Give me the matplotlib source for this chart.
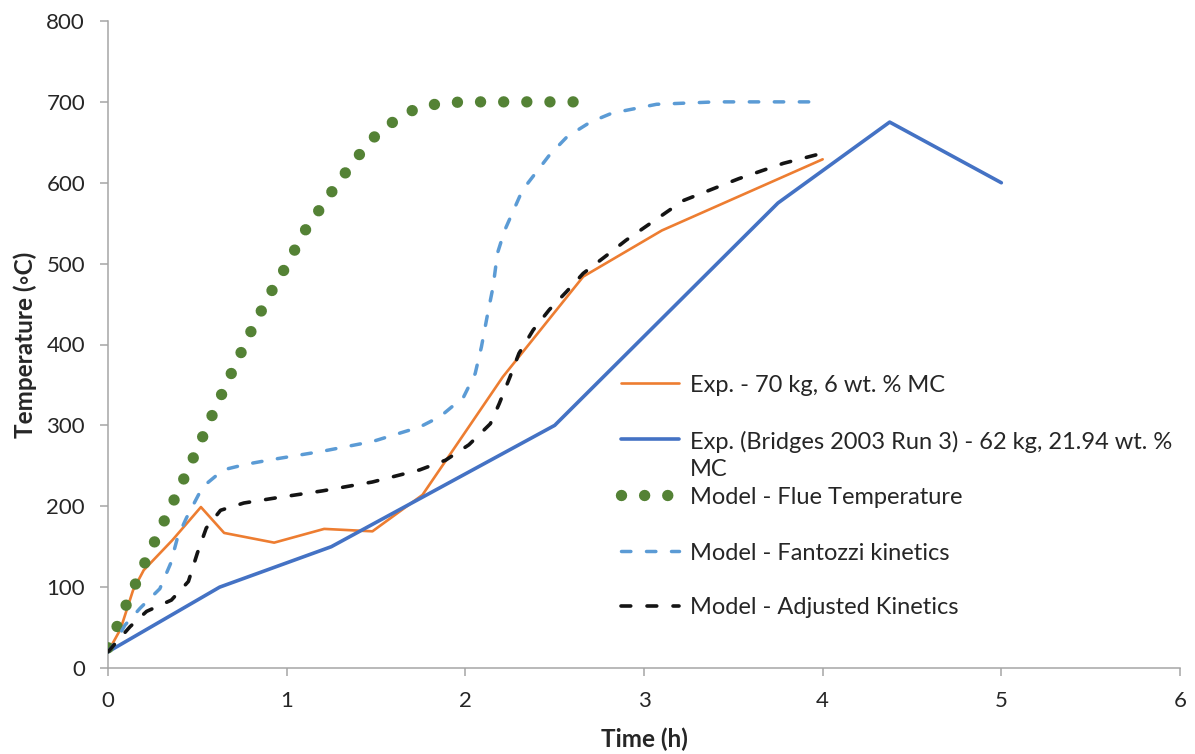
import matplotlib
matplotlib.use("Agg")
import matplotlib.pyplot as plt
from matplotlib.lines import Line2D

# ---------------- data ----------------
exp70_t = [0, 0.07, 0.14, 0.2, 0.36, 0.52, 0.65, 0.93, 1.21, 1.48, 1.76, 2.21, 2.66, 3.1, 4.0]
exp70_T = [20, 48, 96, 121, 158, 199, 167, 155, 172, 169, 214, 360, 484, 541, 629]

bridges_t = [0, 0.625, 1.25, 2.5, 3.75, 4.375, 5.0]
bridges_T = [20, 100, 150, 300, 575, 675, 600]

flue_t = [0, 0.1, 0.2, 0.3, 0.4, 0.5, 0.6, 0.7, 0.8, 0.9, 1.0, 1.1, 1.2, 1.3, 1.4,
          1.5, 1.6, 1.7, 1.8, 1.9, 2.0, 2.65]
flue_T = [25, 77, 127, 175, 222, 271, 321, 369, 416, 460, 498, 540, 572, 604, 633,
          659, 676, 689, 696, 699, 700, 700]

fantozzi_t = [0, 0.03, 0.095, 0.18, 0.29, 0.35, 0.39, 0.44, 0.53, 0.645, 0.775, 0.925,
              1.2, 1.48, 1.745, 1.86, 1.99, 2.055, 2.09, 2.125, 2.155, 2.18, 2.22, 2.27,
              2.32, 2.39, 2.47, 2.57, 2.70, 2.82, 3.07, 3.40, 4.0]
fantozzi_T = [20, 28, 53, 74, 98, 129, 162, 186, 224, 245, 252, 258,
              268, 280, 298, 311, 335, 364, 397, 438, 471, 513, 541, 566,
              591, 611, 634, 657, 675, 686, 697, 700, 700]

adjusted_t = [0, 0.123, 0.216, 0.355, 0.45, 0.50, 0.55, 0.63, 0.76, 0.93, 1.2, 1.48,
              1.745, 1.89, 2.02, 2.14, 2.19, 2.25, 2.30, 2.38, 2.47, 2.565, 2.66, 2.79,
              2.9, 3.22, 3.53, 3.78, 3.99]
adjusted_T = [20, 51, 70, 84, 107, 142, 173, 195, 204, 210, 219, 230,
              245, 257, 276, 302, 327, 360, 389, 418, 443, 465, 488, 510,
              529, 578, 605, 624, 636]

labels = ["Exp. - 70 kg, 6 wt. % MC",
          "Exp. (Bridges 2003 Run 3) - 62 kg, 21.94 wt. %\nMC",
          "Model - Flue Temperature",
          "Model - Fantozzi kinetics",
          "Model - Adjusted Kinetics"]

x_ticks = [0, 1, 2, 3, 4, 5, 6]
y_ticks = [0, 100, 200, 300, 400, 500, 600, 700, 800]

# ---------------- style ----------------
FONT = ["Lato", "DejaVu Sans"]
plt.rcParams["font.family"] = FONT
W, H = 1195, 754
fig = plt.figure(figsize=(W / 100, H / 100), dpi=100)
L, R, T, B = 108, 1180, 21, 668
ax = fig.add_axes([L / W, 1 - B / H, (R - L) / W, (B - T) / H])

c_orange = "#ED7D31"
c_blue = "#4472C4"
c_green = "#548235"
c_lblue = "#5B9BD5"
c_black = "#141414"
c_text = "#262626"

styles = [
    dict(color=c_orange, lw=1.9, solid_capstyle="round"),
    dict(color=c_blue, lw=2.6, solid_capstyle="round"),
    dict(color=c_green, lw=8.2, linestyle=(0, (0.001, 2.03)), dash_capstyle="round"),
    dict(color=c_lblue, lw=2.5, linestyle=(0, (2.7, 4.5)), dash_capstyle="round"),
    dict(color=c_black, lw=2.6, linestyle=(0, (2.7, 4.5)), dash_capstyle="round"),
]
series = [(exp70_t, exp70_T), (bridges_t, bridges_T), (flue_t, flue_T),
          (fantozzi_t, fantozzi_T), (adjusted_t, adjusted_T)]
order = [1, 0, 3, 4, 2]
for i in order:
    t, v = series[i]
    ax.plot(t, v, **styles[i], zorder=3 + i)

ax.set_xlim(0, 6)
ax.set_ylim(0, 800)
ax.set_xticks(x_ticks)
ax.set_yticks(y_ticks)
ax.set_xticklabels([str(x) for x in x_ticks])
ax.set_yticklabels([str(y) for y in y_ticks])

grey = "#A6A6A6"
for s in ["top", "right"]:
    ax.spines[s].set_visible(False)
for s in ["left", "bottom"]:
    ax.spines[s].set_color(grey)
    ax.spines[s].set_linewidth(1.1)
ax.tick_params(axis="both", direction="out", length=5.5, width=1.1, color=grey,
               labelsize=16, labelcolor=c_text, pad=11)

ax.set_xlabel("Time (h)", fontsize=17.5, fontweight="bold", color=c_text, labelpad=12)
ax.set_ylabel("Temperature (\u25e6C)", fontsize=17.5, fontweight="bold", color=c_text,
              labelpad=7)

# ---------------- legend ----------------
def fx(px):
    return (px - L) / (R - L)

def fy(py):
    return (B - py) / (B - T)

rows = [383, 439, 495, 551, 606]
pitch = 28
for i, row in enumerate(rows):
    st = dict(styles[i])
    ax.add_line(Line2D([fx(621), fx(679)], [fy(row), fy(row)], transform=ax.transAxes,
                       clip_on=False, **st))
    nl = labels[i].count("\n")
    ax.text(fx(690), fy(row + 8.5 + nl * pitch), labels[i], transform=ax.transAxes,
            fontsize=17, color=c_text, ha="left", va="baseline", linespacing=1.3)

fig.savefig("out.png", dpi=100)
